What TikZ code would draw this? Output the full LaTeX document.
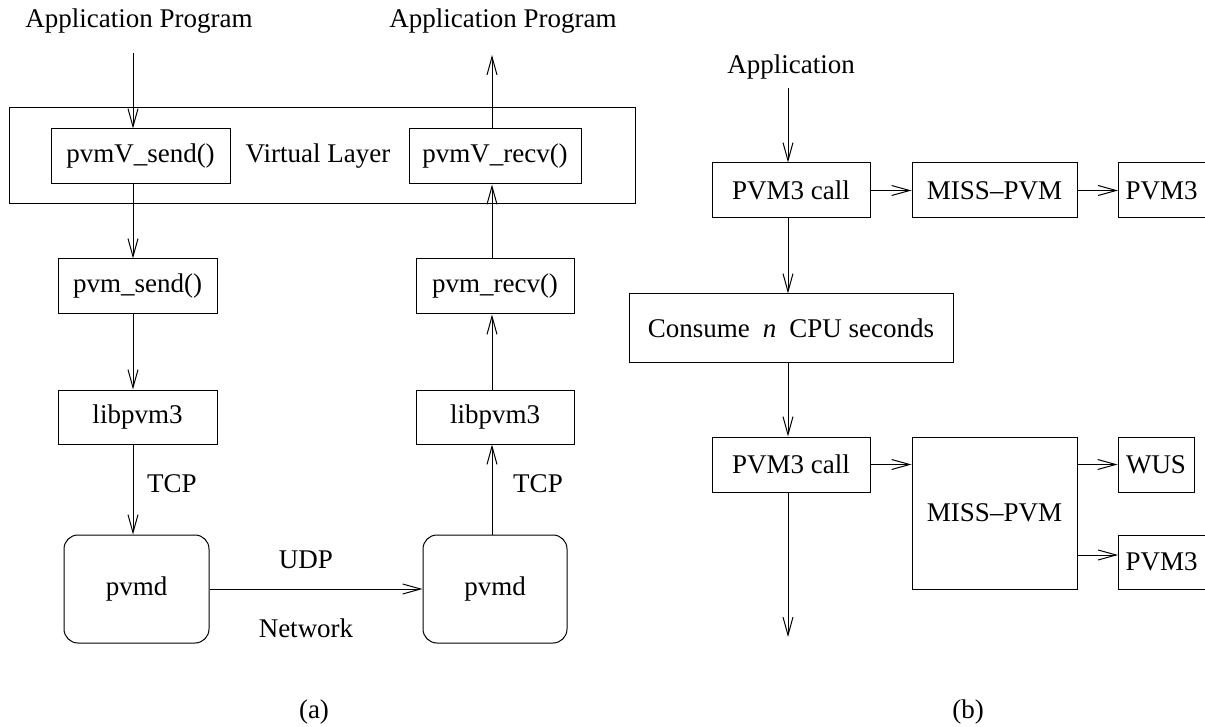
\documentclass[tikz,border=0pt]{standalone}
\usepackage{fontspec}
\setmainfont{Liberation Serif}
\usetikzlibrary{arrows.meta}
\newcommand\fz{\fontsize{27}{32}\selectfont}
\tikzset{
  box/.style={draw, line width=1pt, rectangle, inner sep=0pt, font=\fz},
  rbox/.style={box, rounded corners=14pt},
  lbl/.style={inner sep=0pt, font=\fz},
  arr/.style={line width=1pt, -{Straight Barb[length=18pt,width=10pt,line width=1pt]}},
  ln/.style={line width=1pt},
}
\begin{document}
\begin{tikzpicture}[x=1pt,y=-1pt]
\useasboundingbox (0,0) rectangle (1205,727);
\clip (0,0) rectangle (1205,727);
% ---------- panel (a) ----------
\coordinate (colL) at (133,0);
\coordinate (colR) at (492,0);
\node[lbl] (tL) at (139,21) {Application Program};
\node[lbl] (tR) at (503,21) {Application Program};
\coordinate (inL) at (133,53);
\coordinate (outR) at (492,55);
\node[box, minimum width=626, minimum height=96] (vl) at (322,156) {};
\node[lbl] (vlt) at (318,156) {Virtual Layer};
\node[box, minimum width=179, minimum height=55] (vs) at (140.5,156.5) {pvmV\_send()};
\node[box, minimum width=172, minimum height=55] (vr) at (495,156.5) {pvmV\_recv()};
\node[box, minimum width=159, minimum height=55] (ps) at (137.5,286.5) {pvm\_send()};
\node[box, minimum width=158, minimum height=55] (pr) at (495,286.5) {pvm\_recv()};
\node[box, minimum width=159, minimum height=54] (lL) at (137.5,417) {libpvm3};
\node[box, minimum width=158, minimum height=54] (lR) at (495,417) {libpvm3};
\node[rbox, minimum width=145, minimum height=108] (dL) at (136.5,589) {pvmd};
\node[rbox, minimum width=144, minimum height=108] (dR) at (495,589) {pvmd};
\node[lbl] (tcpL) at (172,484) {TCP};
\node[lbl] (tcpR) at (538,484) {TCP};
\node[lbl] (udp) at (306,560) {UDP};
\node[lbl] (net) at (306,628) {Network};
\node[lbl] (capA) at (314,712) {(a)};
\draw[arr] (inL) -- (vs.north -| colL);
\draw[arr] (vr.north -| colR) -- (outR);
\draw[arr] (vs.south -| colL) -- (ps.north -| colL);
\draw[arr] (ps.south -| colL) -- (lL.north -| colL);
\draw[arr] (lL.south -| colL) -- (dL.north -| colL);
\draw[arr] (pr.north -| colR) -- (vr.south -| colR);
\draw[arr] (lR.north -| colR) -- (pr.south -| colR);
\draw[arr] (dR.north -| colR) -- (lR.south -| colR);
\draw[arr] (dL.east) -- (dR.west);
% ---------- panel (b) ----------
\coordinate (colB) at (788,0);
\node[lbl] (app) at (791,67) {Application};
\coordinate (inB) at (788,88);
\node[box, minimum width=158, minimum height=55] (c1) at (791,190.5) {PVM3 call};
\node[box, minimum width=165, minimum height=55] (m1) at (994.5,190.5) {MISS\textendash PVM};
\node[box, minimum height=55, text width=83pt, align=left, inner xsep=7pt, anchor=west] (p1) at (1118,190.5) {PVM3};
\node[box, minimum width=324, minimum height=68] (cs) at (791,328) {Consume\hspace{13pt}\textit{n}\hspace{13pt}CPU seconds};
\node[box, minimum width=158, minimum height=55] (c2) at (791,464.5) {PVM3 call};
\node[box, minimum width=165, minimum height=152] (m2) at (994.5,513) {MISS\textendash PVM};
\node[box, minimum width=76, minimum height=55] (w) at (1156,464.5) {WUS};
\node[box, minimum height=54, text width=83pt, align=left, inner xsep=7pt, anchor=west] (p2) at (1118,562) {PVM3};
\coordinate (yb) at (1100,555);
\coordinate (endB) at (788,637);
\node[lbl] (capB) at (968,712) {(b)};
\draw[arr] (inB) -- (c1.north -| colB);
\draw[arr] (c1.east) -- (m1.west);
\draw[arr] (m1.east) -- (p1.west);
\draw[arr] (c1.south -| colB) -- (cs.north -| colB);
\draw[arr] (cs.south -| colB) -- (c2.north -| colB);
\draw[arr] (c2.east) -- (c2.east -| m2.west);
\draw[arr] (m2.east |- w.west) -- (w.west);
\draw[arr] (m2.east |- yb) -- (p2.west |- yb);
\draw[arr] (c2.south -| colB) -- (endB);
\end{tikzpicture}
\end{document}
